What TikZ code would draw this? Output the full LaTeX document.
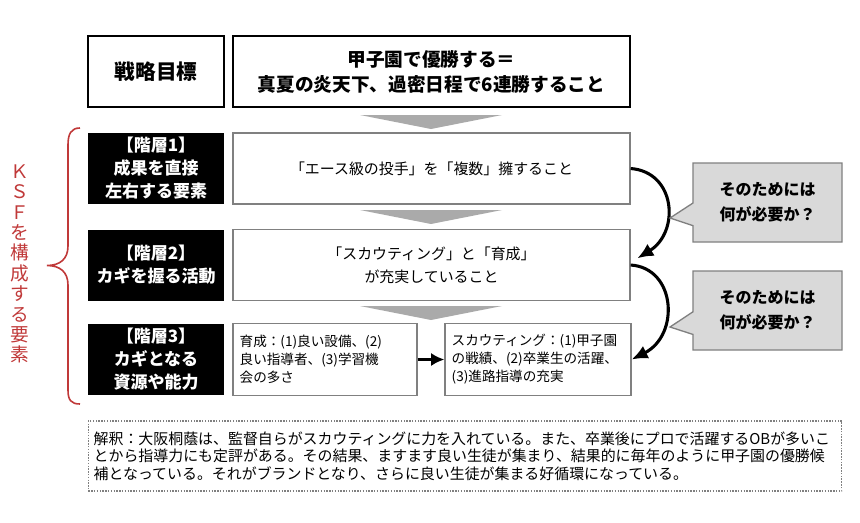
\documentclass[tikz,border=0pt]{standalone}
\usepackage{fontspec}
\setmainfont{Noto Sans CJK JP}
\usepackage{xcolor}
\usepackage{tikz}
\usetikzlibrary{arrows.meta}
\usetikzlibrary{shapes.callouts,positioning}
\definecolor{ksfred}{RGB}{192,57,57}
\definecolor{chevgray}{RGB}{170,170,170}
\definecolor{boxgray}{RGB}{128,128,128}
\definecolor{callfill}{RGB}{217,217,217}
\tikzset{
	>=latex,
	goal/.style = {
			draw = black, line width = 1.6pt,
			inner sep = 0pt, align = center,
			minimum height = 53.25pt,
			font = \fontsize{14}{18.75}\selectfont\bfseries,
		},
	tier/.style = {
			fill = black, text = white,
			inner sep = 0pt, align = center,
			minimum width = 102pt, minimum height = 53.25pt,
			font = \fontsize{12.75}{17.25}\selectfont\bfseries,
		},
	row/.style = {
			draw = boxgray, line width = 1pt,
			inner sep = 0pt, align = center,
			minimum width = 297.75pt, minimum height = 53.25pt,
			font = \fontsize{11.2}{17.25}\selectfont,
		},
	res/.style = {
			draw = boxgray, line width = 1pt,
			inner xsep = 5pt, inner ysep = 0pt, align = left,
			minimum height = 54pt,
			font = \fontsize{10.2}{13.5}\selectfont,
		},
	call/.style = {
			rectangle callout, draw = boxgray, fill = callfill, line width = 1pt,
			inner sep = 0pt, align = center,
			minimum width = 111.75pt, minimum height = 59.25pt,
			callout pointer width = 17pt,
			font = \fontsize{12}{18.75}\selectfont\bfseries,
		},
	note/.style = {
			draw = boxgray, densely dotted, line width = 1.1pt,
			inner xsep = 4pt, inner ysep = 0pt, align = left,
			text width = 557pt, minimum height = 52.5pt,
			font = \fontsize{11.2}{13.2}\selectfont,
		},
	bendarrow/.style = {draw = black, line width = 2.3pt, -{Latex[length=12pt,width=10.5pt]}},
	flatarrow/.style = {draw = black, line width = 2.4pt, -{Latex[length=10pt,width=10pt]}},
}

\begin{document}
\begin{tikzpicture}[x=0.75pt, y=-0.75pt]
	\useasboundingbox (0,0) rectangle (860,522);

	\node[goal, minimum width = 102pt, font = \fontsize{15.5}{18.75}\selectfont\bfseries] (goallabel) at (156,71.5) {戦略目標};
	\node[goal, minimum width = 297.75pt] (goal) at (431.5,71.5) {甲子園で優勝する＝\\真夏の炎天下、過密日程で6連勝すること};

	\node[tier] (tier1) at (156,168.5) {【階層1】\\成果を直接\\左右する要素};
	\node[tier] (tier2) at (156,265) {【階層2】\\カギを握る活動};
	\node[tier] (tier3) at (156,359.5) {【階層3】\\カギとなる\\資源や能力};

	\node[row] (row1) at (431.5,168.5) {「エース級の投手」を「複数」擁すること};
	\node[row] (row2) at (431.5,265) {「スカウティング」と「育成」\\が充実していること};
	\node[res, text width = 128pt] (box3L) at (325,359.5) {育成：(1)良い設備、(2)\\良い指導者、(3)学習機\\会の多さ};
	\node[res, text width = 129.5pt] (box3R) at (538,359.5) {スカウティング：(1)甲子園\\の戦績、(2)卒業生の活躍、\\(3)進路指導の充実};

	\foreach \y in {115,210,306}
	\fill[chevgray] (360,\y) -- (502,\y) -- (431,\y+14) -- cycle;

	\draw[bendarrow] (row1.east) .. controls (676,172) and (680,232) .. ([xshift=5pt,yshift=5pt]row2.east);
	\draw[bendarrow] (row2.east) .. controls (676,268) and (680,335) .. (box3R.east);
	\draw[flatarrow] (box3L) -- (box3R);

	\coordinate (tip1) at (670,218);
	\coordinate (tip2) at (670,327);
	\node[call, callout absolute pointer = {(tip1)}] (why1) at (767.5,202.5) {そのためには\\何が必要か？};
	\node[call, callout absolute pointer = {(tip2)}] (why2) at (767.5,310.5) {そのためには\\何が必要か？};

	% KSF brace
	\draw[ksfred, line width = 1.2pt] (80,128) .. controls (71,128) and (68,134) .. (68,145) -- (68,246)
		.. controls (68,259) and (60,265.5) .. (47,265.5) .. controls (60,265.5) and (68,272) .. (68,285)
		-- (68,390) .. controls (68,400) and (71,404) .. (80,404);
	\node[text = ksfred, align = center, inner sep = 0pt, font = \fontsize{14}{15.3}\selectfont] (ksf) at (20,264) {Ｋ\\Ｓ\\Ｆ\\を\\構\\成\\す\\る\\要\\素};

	\node[note] (notes) at (465,456) {解釈：大阪桐蔭は、監督自らがスカウティングに力を入れている。また、卒業後にプロで活躍するOBが多いこ\\とから指導力にも定評がある。その結果、ますます良い生徒が集まり、結果的に毎年のように甲子園の優勝候\\補となっている。それがブランドとなり、さらに良い生徒が集まる好循環になっている。};

\end{tikzpicture}
\end{document}
